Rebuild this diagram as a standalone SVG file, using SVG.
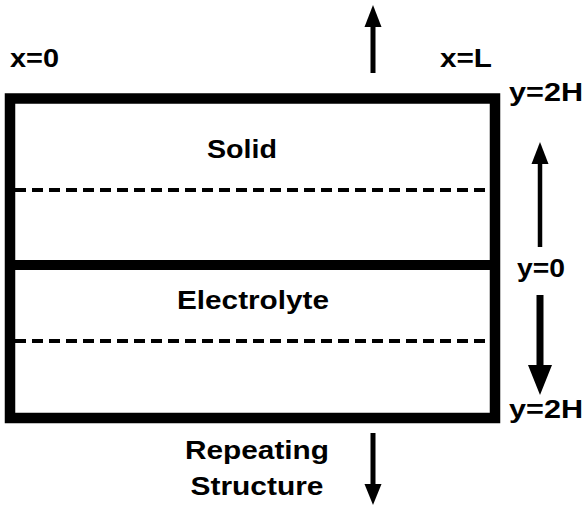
<svg xmlns="http://www.w3.org/2000/svg" width="587" height="506" viewBox="0 0 587 506">
<style>
text{font-family:"Liberation Sans",Arial,sans-serif;font-weight:bold;font-size:25px;fill:#000}
.c{text-anchor:middle}
.dash{stroke:#000;stroke-width:4;stroke-dasharray:11 6;fill:none}
.thick{stroke:#000;fill:none}
</style>
<rect width="587" height="506" fill="#fff"/>
<g id="box">
<rect x="10" y="98.5" width="485" height="319.5" class="thick" stroke-width="10.5"/>
<line x1="10" y1="265" x2="495" y2="265" class="thick" stroke-width="10"/>
</g>
<g id="solid">
<line x1="15" y1="190" x2="490" y2="190" class="dash"/>
<text x="242" y="158" class="c" textLength="70" lengthAdjust="spacingAndGlyphs">Solid</text>
</g>
<g id="electrolyte">
<line x1="15" y1="341" x2="490" y2="341" class="dash"/>
<text x="253" y="309" class="c" textLength="152" lengthAdjust="spacingAndGlyphs">Electrolyte</text>
</g>
<g id="labels">
<text x="10" y="67" textLength="49" lengthAdjust="spacingAndGlyphs">x=0</text>
<text x="440" y="67" textLength="52" lengthAdjust="spacingAndGlyphs">x=L</text>
<text x="509" y="101" textLength="74" lengthAdjust="spacingAndGlyphs">y=2H</text>
<text x="517" y="277" textLength="48" lengthAdjust="spacingAndGlyphs">y=0</text>
<text x="509" y="418" textLength="74" lengthAdjust="spacingAndGlyphs">y=2H</text>
<text x="257" y="459" class="c" textLength="144" lengthAdjust="spacingAndGlyphs">Repeating</text>
<text x="257" y="495" class="c" textLength="133" lengthAdjust="spacingAndGlyphs">Structure</text>
</g>
<g id="connectors">
<line x1="373" y1="73" x2="373" y2="25" stroke="#000" stroke-width="5"/>
<polygon points="373,5 364.5,27 381.5,27" fill="#000"/>
<line x1="373" y1="433" x2="373" y2="486" stroke="#000" stroke-width="5"/>
<polygon points="373,505 364.5,484 381.5,484" fill="#000"/>
<line x1="540" y1="247" x2="540" y2="162" stroke="#000" stroke-width="4.5"/>
<polygon points="540,142 531.5,164 548.5,164" fill="#000"/>
<line x1="540" y1="295" x2="540" y2="368" stroke="#000" stroke-width="7"/>
<polygon points="540,395 528,365 552,365" fill="#000"/>
</g>
</svg>
